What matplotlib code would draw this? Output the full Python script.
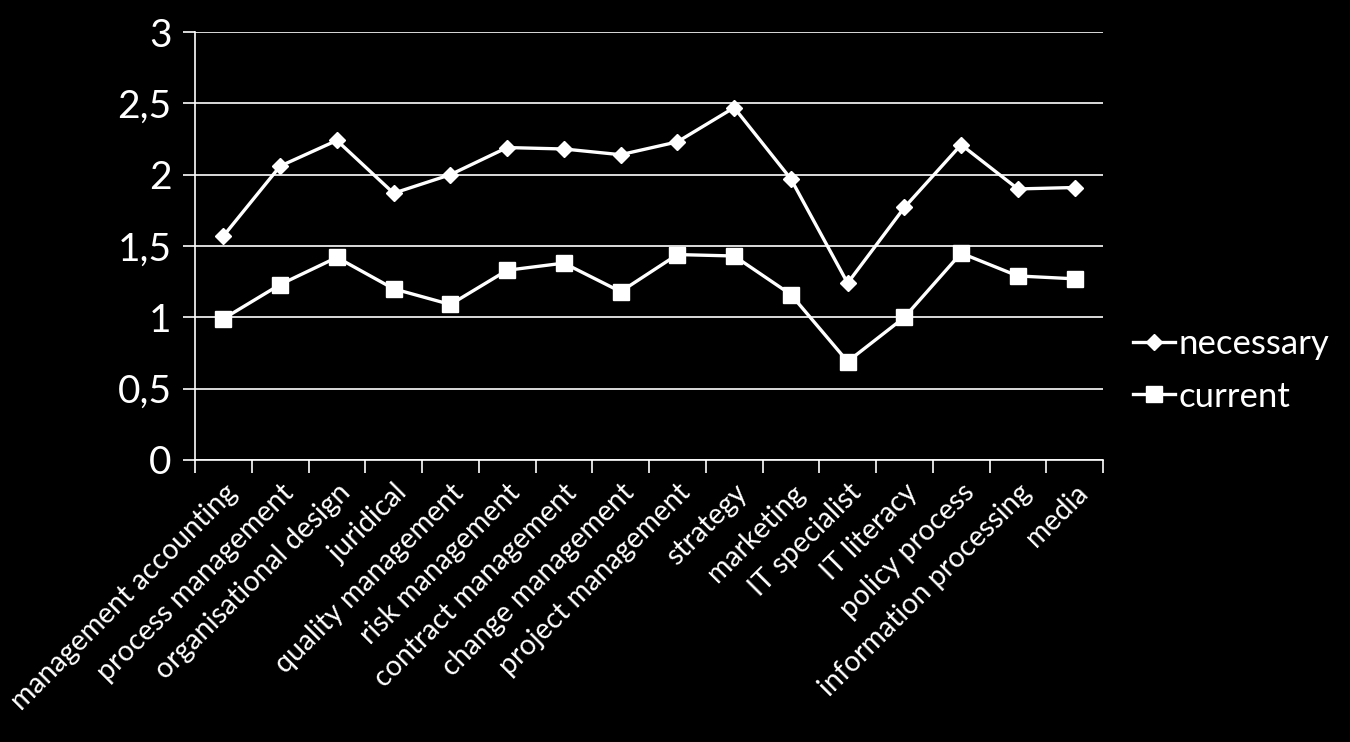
import numpy as np
import matplotlib
matplotlib.use("Agg")
import matplotlib.pyplot as plt
from matplotlib.ticker import FuncFormatter

categories = [
    "management accounting", "process management", "organisational design",
    "juridical", "quality management", "risk management", "contract management",
    "change management", "project management", "strategy", "marketing",
    "IT specialist", "IT literacy", "policy process", "information processing",
    "media",
]
necessary = [1.57, 2.06, 2.24, 1.87, 2.00, 2.19, 2.18, 2.14, 2.23, 2.47,
             1.97, 1.24, 1.77, 2.21, 1.90, 1.91]
current = [0.99, 1.23, 1.42, 1.20, 1.09, 1.33, 1.38, 1.18, 1.44, 1.43,
           1.16, 0.69, 1.00, 1.45, 1.29, 1.27]

plt.rcParams['font.family'] = ['Lato', 'DejaVu Sans']

fig = plt.figure(figsize=(13.5, 7.42), dpi=100, facecolor='black')
ax = fig.add_axes([195 / 1350, 1 - 460 / 742, 908 / 1350, 428 / 742])
ax.set_facecolor('black')

x = np.arange(len(categories))
ax.plot(x, necessary, color='white', lw=2.4, marker='D', ms=8,
        label='necessary', zorder=3)
ax.plot(x, current, color='white', lw=2.4, marker='s', ms=11,
        label='current', zorder=3)

ax.set_xlim(-0.5, len(categories) - 0.5)
ax.set_ylim(0, 3)
ax.set_yticks(np.arange(0, 3.01, 0.5))
ax.yaxis.set_major_formatter(FuncFormatter(
    lambda v, p: f"{v:g}".replace('.', ',')))
ax.grid(axis='y', color='white', lw=1.2)
ax.set_axisbelow(True)

ax.set_xticks(x)
ax.set_xticklabels(categories, rotation=45, ha='right', rotation_mode='anchor',
                   fontsize=20.5, color='white')
ax.tick_params(axis='x', which='major', length=0, pad=14)
ax.set_xticks(np.arange(-0.5, len(categories), 1), minor=True)
ax.tick_params(axis='x', which='minor', length=9, width=1.2, color='white')
ax.tick_params(axis='y', length=9, width=1.2, color='white', labelcolor='white',
               labelsize=28, pad=8)

for side in ['top', 'right']:
    ax.spines[side].set_visible(False)
for side in ['left', 'bottom']:
    ax.spines[side].set_color('white')
    ax.spines[side].set_linewidth(1.2)

leg = ax.legend(loc='center left', bbox_to_anchor=(1.033, 0.21), frameon=False,
                fontsize=25, labelcolor='white', handlelength=1.2,
                handletextpad=0.1, labelspacing=0.6, borderpad=0,
                borderaxespad=0)

fig.savefig('out.png', dpi=100, facecolor='black')
